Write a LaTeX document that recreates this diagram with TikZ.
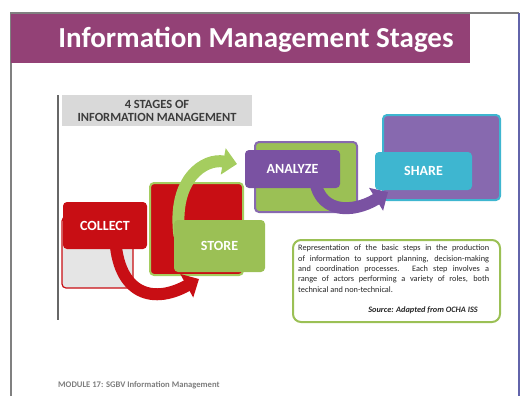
\documentclass[tikz,border=0pt]{standalone}
\usepackage{fontspec}
\setmainfont{Carlito}
\usetikzlibrary{arrows.meta}
\definecolor{banner}{RGB}{147,65,118}
\definecolor{frameg}{RGB}{128,128,128}
\definecolor{frameb}{RGB}{98,100,170}
\definecolor{stred}{RGB}{200,14,20}
\definecolor{stgreen}{RGB}{155,192,85}
\definecolor{stgreenb}{RGB}{165,205,95}
\definecolor{stpurple}{RGB}{122,82,162}
\definecolor{stpurpleb}{RGB}{135,105,175}
\definecolor{stcyan}{RGB}{62,182,208}
\definecolor{headgray}{RGB}{217,217,217}
\definecolor{textgray}{RGB}{60,60,60}
\definecolor{footgray}{RGB}{125,125,125}
\tikzset{
  backbox/.style={rounded corners=4pt, line width=2pt, inner sep=0pt},
  stagebox/.style={rounded corners=4pt, inner sep=0pt, text=white,
     font=\fontsize{14}{16}\selectfont\bfseries},
  bigarrow/.style={line width=12pt, -{Triangle[length=14pt,width=26pt]}},
}
\begin{document}
\begin{tikzpicture}[x=1pt,y=-1pt]
\useasboundingbox (0,0) rectangle (521,396);
% slide frame
\draw[frameg, line width=1.5pt] (11,396) -- (11,13) -- (519,13);
\draw[frameb, line width=2.5pt] (519,13) -- (519,396);
% title banner
\node[fill=banner, minimum width=459pt, minimum height=49pt, inner sep=0pt, anchor=north west] (banner) at (11,14) {};
\node[text=white, font=\fontsize{29}{33}\selectfont\bfseries] (title) at (256,40) {Information Management Stages};
% picture left edge
\draw[frameg!80!black, line width=1.5pt] (58,95) -- (58,320);
% heading
\node[fill=headgray, minimum width=190pt, minimum height=31pt, inner sep=0pt, align=center,
      text=textgray, font=\fontsize{12.5}{13}\selectfont\bfseries] (heading) at (157,110.5)
      {4 STAGES OF\\INFORMATION MANAGEMENT};
% back boxes
\node[backbox, draw=stred, line width=1.2pt, fill=black!10, minimum width=71pt, minimum height=71pt] (collectback) at (97.5,252.5) {};
\node[backbox, draw=stgreenb, fill=stred, minimum width=93pt, minimum height=92pt] (storeback) at (196.5,229) {};
\node[backbox, draw=stpurpleb, fill=stgreen, minimum width=102pt, minimum height=70pt] (analyzeback) at (306,177) {};
\node[backbox, draw=stcyan, fill=stpurpleb, minimum width=117pt, minimum height=85pt] (shareback) at (441.5,157.5) {};
% arrow tips
\coordinate (redtip) at (199,279);
\coordinate (greentip) at (237,164);
\coordinate (purpletip) at (388,192);
% front box centres
\path (105,225.5) coordinate (collectc) (219.5,246) coordinate (storec) (292.5,169) coordinate (analyzec);
% arrows
\draw[bigarrow, stred] ([shift={(10,5)}]collectc) .. controls (115,292) and (150,306) .. (redtip);
\draw[bigarrow, stgreenb] ([shift={(-40,-10)}]storec) .. controls (172,178) and (205,158) .. (greentip);
\draw[bigarrow, stpurple] ([shift={(22,5)}]analyzec) .. controls (316,214) and (352,214) .. (purpletip);
% front boxes
\node[stagebox, fill=stred, minimum width=84pt, minimum height=47pt] (collect) at (collectc) {COLLECT};
\node[stagebox, fill=stgreen, minimum width=91pt, minimum height=52pt] (store) at (storec) {STORE};
\node[stagebox, fill=stpurple, minimum width=95pt, minimum height=38pt] (analyze) at (analyzec) {ANALYZE};
\node[stagebox, fill=stcyan, minimum width=97pt, minimum height=38pt] (share) at (423.5,171) {SHARE};
% description
\node[draw=stgreen, line width=2pt, rounded corners=8pt, minimum width=207pt, minimum height=82pt, inner sep=0pt] (desc) at (396.5,281) {};
\node[anchor=north west, inner sep=0pt, align=left, text=black!85,
      font=\fontsize{8.3}{10.3}\selectfont] (desctext) at (298,245)
 {\makebox[191pt][s]{Representation of the basic steps in the production}\\
  \makebox[191pt][s]{of information to support planning, decision-making}\\
  \makebox[191pt][s]{and coordination processes. Each step involves a}\\
  \makebox[191pt][s]{range of actors performing a variety of roles, both}\\
  technical and non-technical.};
\node[anchor=east, inner sep=0pt, text=black!85, font=\fontsize{8.3}{9}\selectfont\itshape\bfseries] (source) at (478,310)
 {Source: Adapted from OCHA ISS};
% footer
\node[anchor=west, inner sep=0pt, text=footgray, font=\fontsize{8.6}{10}\selectfont\bfseries] (footer) at (58,385)
 {MODULE 17: SGBV Information Management};
\end{tikzpicture}
\end{document}
